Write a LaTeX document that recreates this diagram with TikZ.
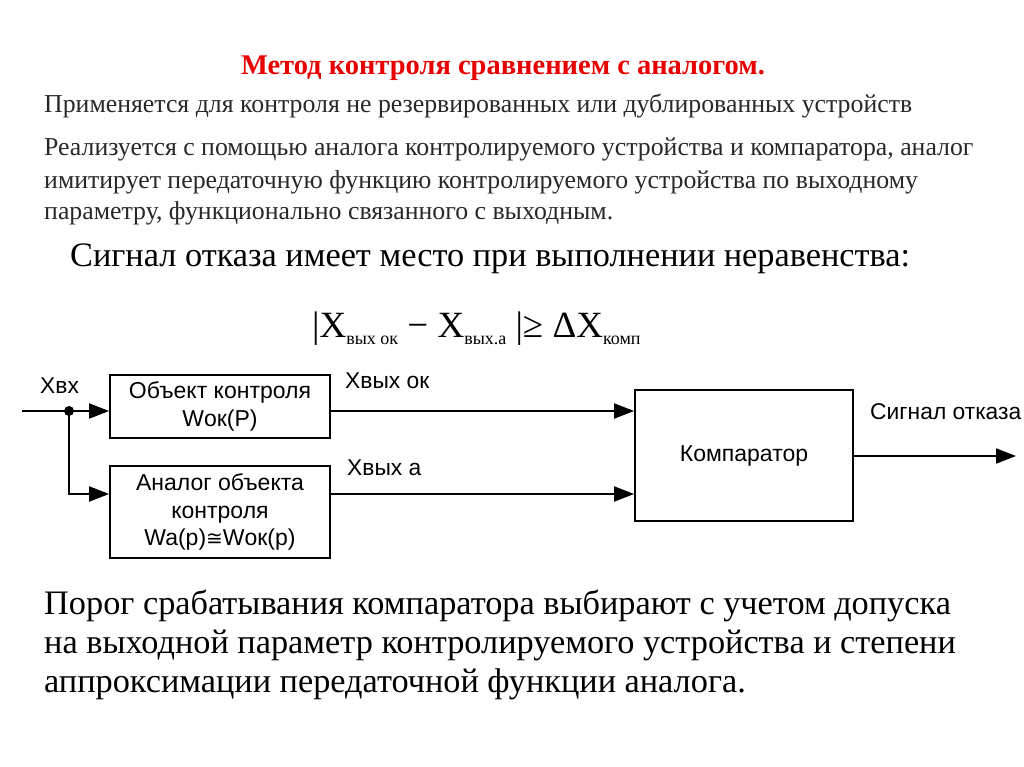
\documentclass[tikz,border=0pt]{standalone}
\usepackage{fontspec}
\setmainfont{Liberation Serif}
\newfontfamily\arialf{Liberation Sans}
\newfontfamily\dejavu{DejaVu Sans}
\usetikzlibrary{arrows.meta}
\definecolor{titlered}{RGB}{230,0,0}
\definecolor{txtgray}{RGB}{40,40,40}
\tikzset{
  blk/.style={draw, line width=1.8pt, inner sep=0pt, align=center, font=\arialf\fontsize{23}{27.5}\selectfont},
  sig/.style={line width=1.9pt, -{Triangle[length=20pt,width=15pt]}},
  lbl/.style={font=\arialf\fontsize{22.8}{27}\selectfont, inner sep=0pt, anchor=base west},
  para/.style={font=\fontsize{25.8}{30}\selectfont, text=txtgray, inner sep=0pt, anchor=base west},
  big/.style={font=\fontsize{34.3}{40}\selectfont, inner sep=0pt, anchor=base west, align=left},
}
\begin{document}
\begin{tikzpicture}[x=1pt,y=-1pt]
\useasboundingbox (0,0) rectangle (1024,767);
% texts
\node[font=\bfseries\fontsize{28.5}{32}\selectfont, text=titlered, inner sep=0pt, anchor=base] (title) at (503,75) {Метод контроля сравнением с аналогом.};
\node[para] (t1) at (44,113) {Применяется для контроля не резервированных или дублированных устройств};
\node[para] (t2) at (44,156) {Реализуется с помощью аналога контролируемого устройства и компаратора, аналог};
\node[para] (t3) at (44,189) {имитирует передаточную функцию контролируемого устройства по выходному};
\node[para] (t4) at (44,219) {параметру, функционально связанного с выходным.};
\node[big] (t5) at (70,266) {Сигнал отказа имеет место при выполнении неравенства:};
\node[inner sep=0pt, anchor=base west] (formula) at (312,337) {\fontsize{37}{37}\selectfont |X\raisebox{-7pt}{\fontsize{18}{18}\selectfont вых ок} −~X\raisebox{-7pt}{\fontsize{18}{18}\selectfont вых.а} |≥~ΔX\raisebox{-7pt}{\fontsize{18}{18}\selectfont комп}};
\node[big] (b1) at (44,614) {Порог срабатывания компаратора выбирают с учетом допуска};
\node[big] (b2) at (44,653) {на выходной параметр контролируемого устройства и степени};
\node[big] (b3) at (44,692) {аппроксимации передаточной функции аналога.};
% blocks
\node[blk, minimum width=220pt, minimum height=63pt] (obj) at (220,406.5) {Объект контроля\\Wок(P)};
\node[blk, minimum width=220pt, minimum height=92pt] (ana) at (220,512) {Аналог объекта\\контроля\\Wa(p){\dejavu\fontsize{20}{20}\selectfont ≅}Wок(p)};
\node[blk, minimum width=218pt, minimum height=131pt] (cmp) at (744,455.5) {Компаратор};
% connectors
\coordinate (in) at (22,411);
\coordinate (br) at (69,411);
\coordinate (out) at (1016,456);
\draw[sig] (in) -- (obj.west |- in);
\fill (br) circle (5pt);
\draw[sig] (br) |- (ana.west |- 0,494);
\draw[sig] (obj.east |- 0,411) -- (cmp.west |- 0,411);
\draw[sig] (ana.east |- 0,494) -- (cmp.west |- 0,494);
\draw[sig] (cmp.east |- out) -- (out);
% labels
\node[lbl] (lxin) at (40,393) {Xвх};
\node[lbl] (lx1) at (345,388) {Xвых ок};
\node[lbl] (lx2) at (347,475) {Xвых а};
\node[lbl] (lsig) at (870,419) {Сигнал отказа};
\end{tikzpicture}
\end{document}
